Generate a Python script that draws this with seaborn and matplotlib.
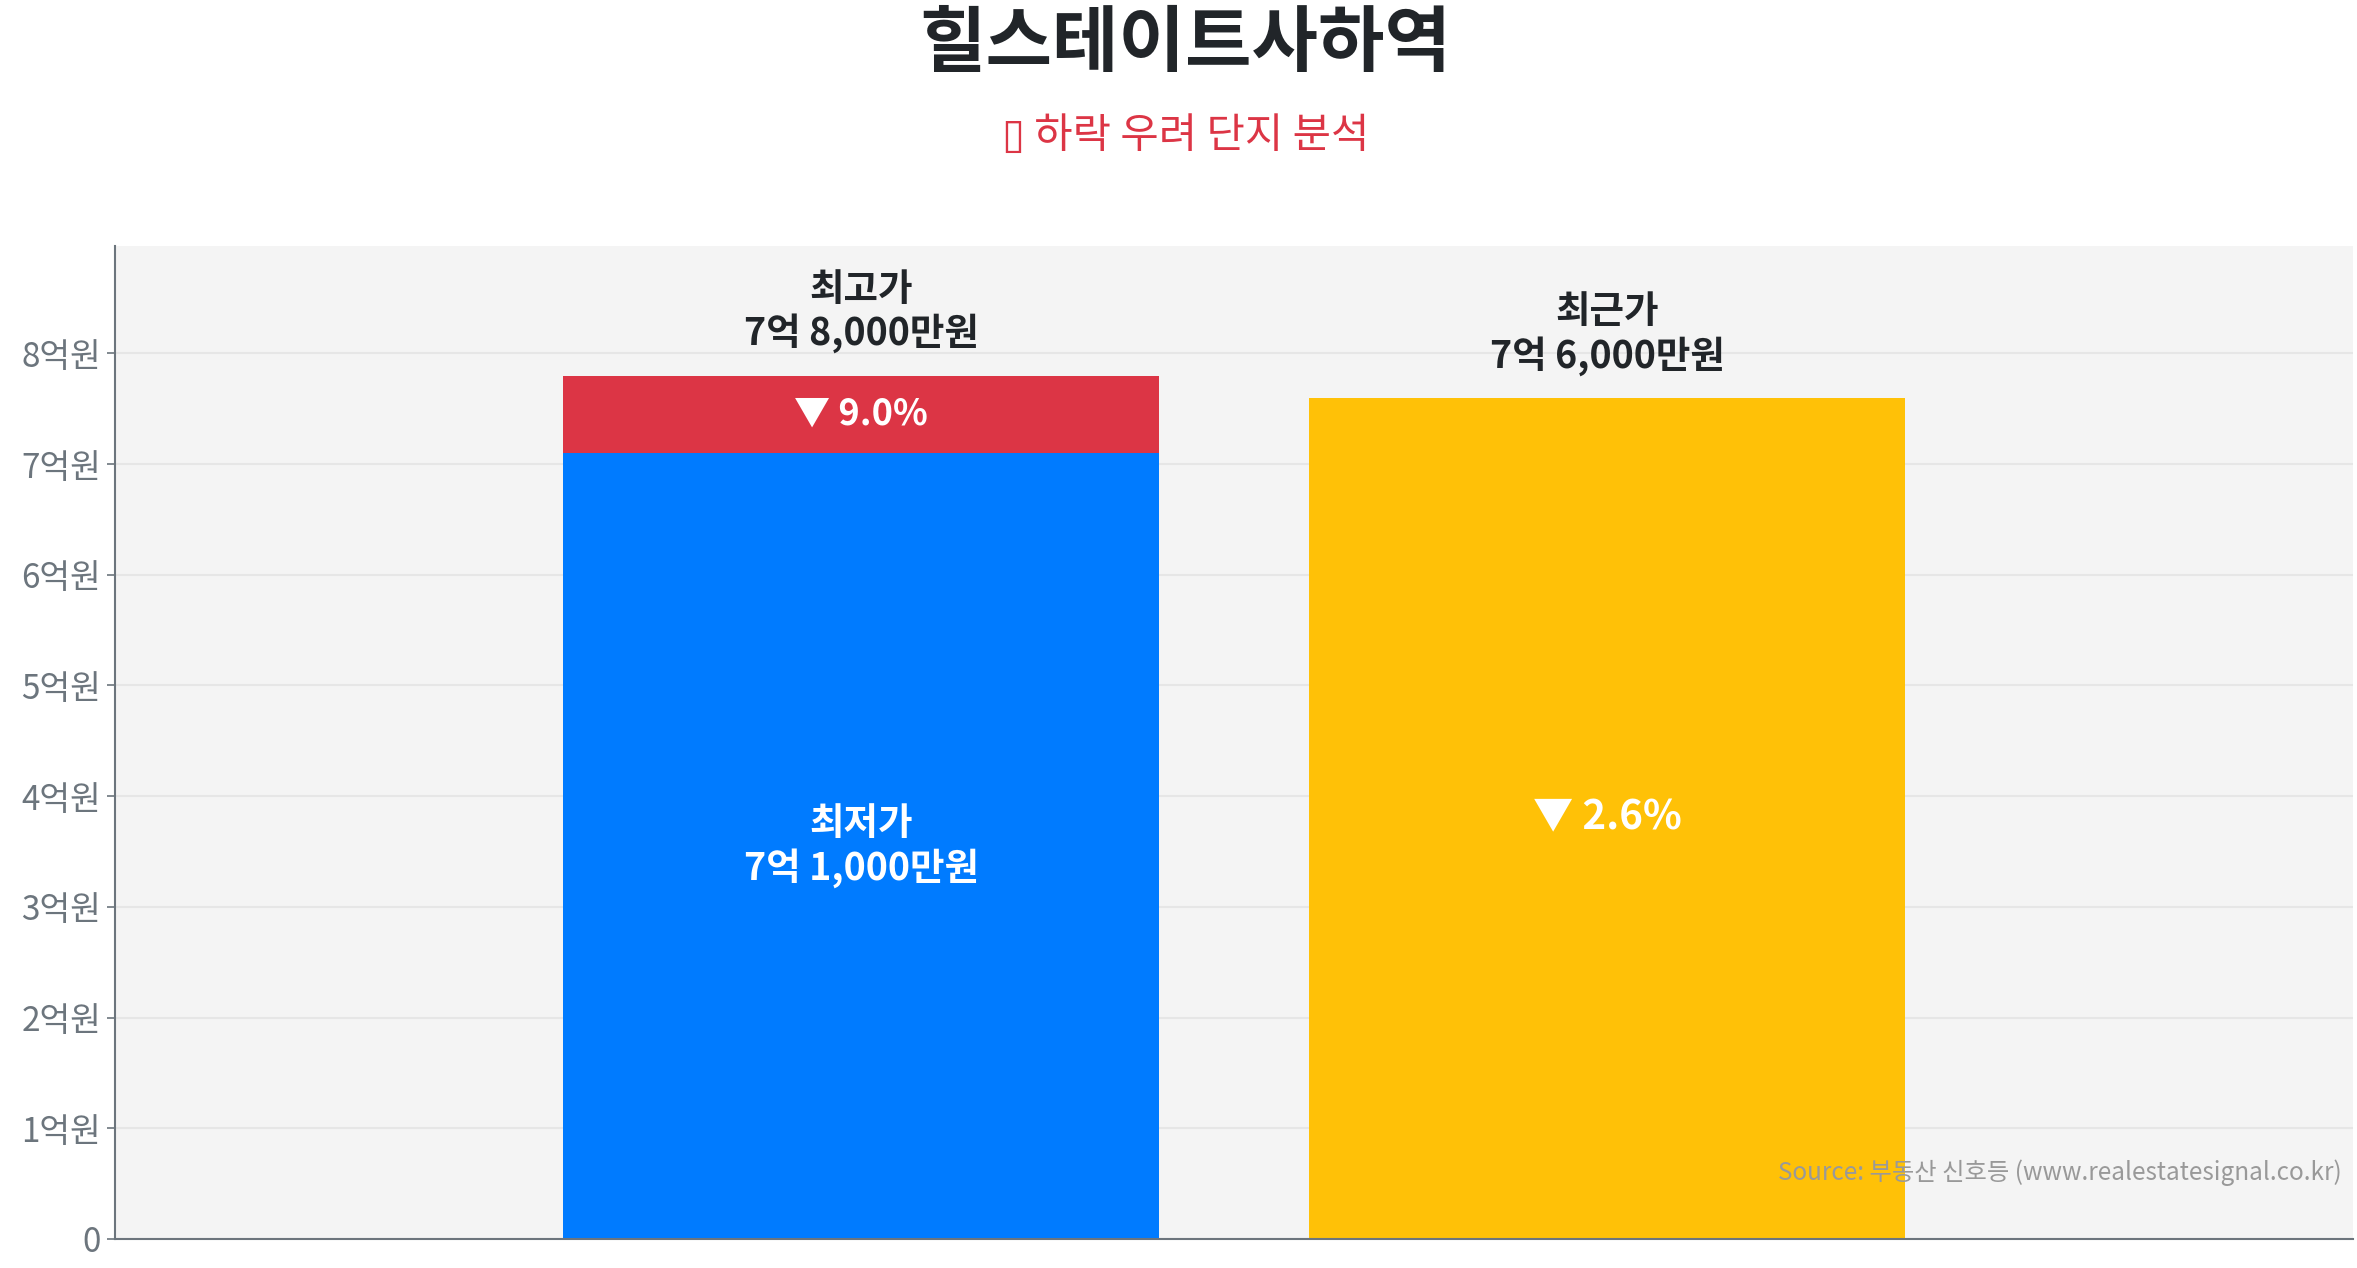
import pandas as pd
import seaborn as sns
import matplotlib.pyplot as plt

# 가격 데이터 (단위: 억원)
categories = ['최고가', '최근가']
top_prices = [7.8, 7.6]          # 최고가, 최근가
low_category = ['최고가']
low_prices = [7.1]               # 최저가 (최고가 막대 안에 겹쳐 그림)
y_ticks = [0, 1, 2, 3, 4, 5, 6, 7, 8]

title = '힐스테이트사하역'
subtitle = '▯ 하락 우려 단지 분석'
source = 'Source: 부동산 신호등 (www.realestatesignal.co.kr)'

RED = '#dc3545'
BLUE = '#007bff'
YELLOW = '#ffc107'
DARK = '#212529'
GRAY = '#6c757d'


def won_label(v):
    man = int(round(v * 10000))
    eok, rest = divmod(man, 10000)
    return f'{eok}억 {rest:,}만원' if rest else f'{eok}억원'


sns.set_theme(style='white')
plt.rcParams['font.family'] = ['Noto Sans CJK KR', 'DejaVu Sans']

fig = plt.figure(figsize=(23.57, 12.68), dpi=100)
ax = fig.add_axes([0.0488, 0.0229, 0.9495, 0.7831])
ax.set_facecolor('#f4f4f4')

df_top = pd.DataFrame({'구분': categories, '가격': top_prices})
df_low = pd.DataFrame({'구분': low_category, '가격': low_prices})

sns.barplot(data=df_top, x='구분', y='가격', order=categories, hue='구분',
            palette=[RED, YELLOW], width=0.8, saturation=1, legend=False,
            linewidth=0, ax=ax)
sns.barplot(data=df_low, x='구분', y='가격', order=categories,
            color=BLUE, width=0.8, saturation=1, linewidth=0, ax=ax)

ax.set_xlim(-1, 2)
ax.set_ylim(0, max(top_prices) * 1.15)
ax.set_yticks(y_ticks)
ax.set_yticklabels([f'{t}억원' if t else '0' for t in y_ticks], fontsize=24, color=GRAY)
ax.set_xticks([])
ax.set_xlabel('')
ax.set_ylabel('')
ax.yaxis.grid(True, color='#e6e6e6', linewidth=1.5)
ax.set_axisbelow(True)
ax.tick_params(axis='y', length=6, width=1.2, color=GRAY, left=True, pad=4)
for s in ['top', 'right']:
    ax.spines[s].set_visible(False)
for s in ['left', 'bottom']:
    ax.spines[s].set_color(GRAY)
    ax.spines[s].set_linewidth(1.5)

high, recent, low = top_prices[0], top_prices[1], low_prices[0]
lab = dict(fontsize=27, fontweight='bold', linespacing=1.15)

# 최고가 막대
ax.text(0, high + 0.2, f'최고가\n{won_label(high)}', ha='center', va='bottom',
        color=DARK, **lab)
ax.text(0, (high + low) / 2, f'▼ {(high - low) / high * 100:.1f}%', ha='center', va='center',
        fontsize=26, fontweight='bold', color='white')
ax.text(0, low / 2, f'최저가\n{won_label(low)}', ha='center', va='center',
        color='white', **lab)

# 최근가 막대
ax.text(1, recent + 0.2, f'최근가\n{won_label(recent)}', ha='center', va='bottom',
        color=DARK, **lab)
ax.text(1, recent / 2, f'▼ {(high - recent) / high * 100:.1f}%', ha='center', va='center',
        fontsize=29, fontweight='bold', color='white')

ax.text(0.995, 0.067, source, transform=ax.transAxes, ha='right', va='center',
        fontsize=17.5, color='#999999')

fig.text(0.503, 0.965, title, ha='center', va='center', fontsize=52,
         fontweight='bold', color=DARK)
fig.text(0.503, 0.892, subtitle, ha='center', va='center', fontsize=30, color=RED)

fig.savefig('out.png', dpi=100, facecolor='white')
